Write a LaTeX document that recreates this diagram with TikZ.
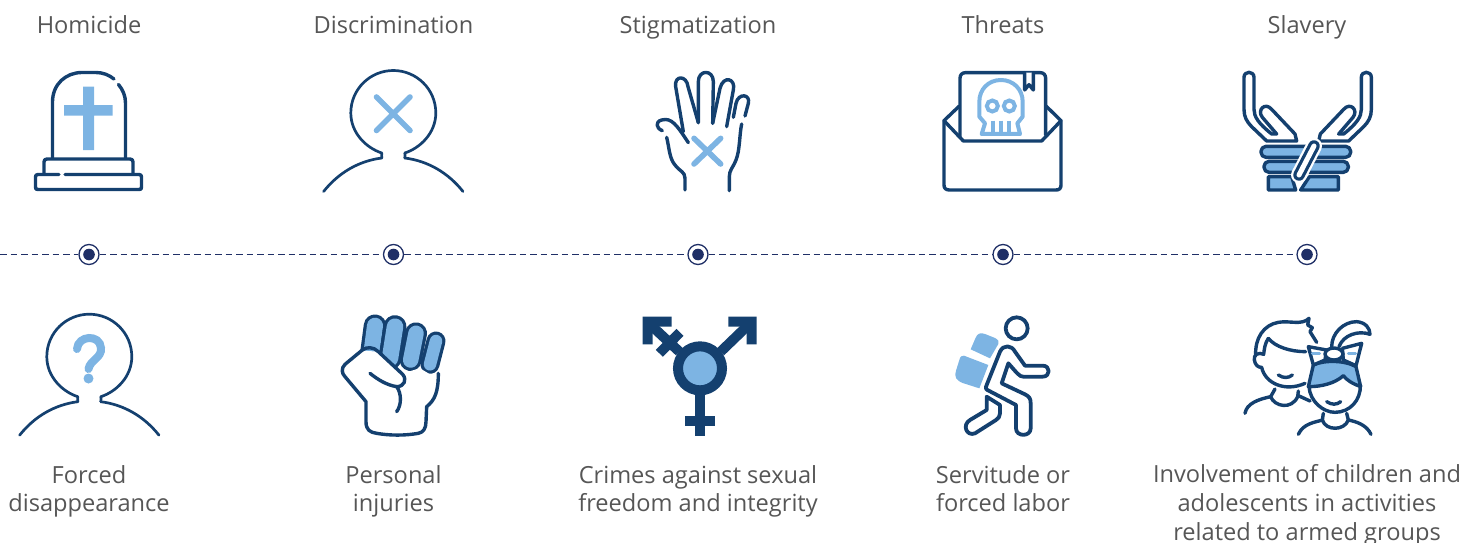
\documentclass[tikz,border=0pt]{standalone}
\usepackage{fontspec}
\setmainfont{Open Sans}
\definecolor{dk}{HTML}{14406F}
\definecolor{lt}{HTML}{7DB4E3}
\definecolor{navy}{HTML}{1F2F66}
\definecolor{tx}{HTML}{565656}
\tikzset{
 lab/.style={font=\fontsize{23.6}{28.7}\selectfont,text=tx,inner sep=0pt,align=center,anchor=base},
 marker/.style={circle,draw=navy,line width=1.3pt,fill=white,minimum size=20pt,inner sep=0pt},
 tl/.style={draw=navy,line width=1.3pt,dash pattern=on 6.5pt off 4pt},
 ink/.style={draw=dk,line width=3.4pt,line cap=round,line join=round},
 thin/.style={draw=dk,line width=2.7pt,line cap=round,line join=round},
 accent/.style={draw=lt,line width=5.6pt,line cap=round},
 zm/.style 2 args={shift={(#1pt,-#2pt)},x=.33333pt,y=-.33333pt}
}
\newcommand{\personicon}{%
 \draw[thin] (-11.5,45) .. controls (-11.5,43) and (-12,41) .. (-11.5,40)
   .. controls (-27,35) and (-42.5,20) .. (-42.5,0) .. controls (-42.5,-24) and (-23,-42.5) .. (0,-42.5)
   .. controls (23,-42.5) and (42.5,-24) .. (42.5,0) .. controls (42.5,20) and (27,35) .. (11.5,40)
   .. controls (12,41) and (11.5,43) .. (11.5,45);
 \draw[thin] (-11.5,45) .. controls (-35,48) and (-55,60) .. (-69.7,78.5);
 \draw[thin] (11.5,45) .. controls (35,48) and (55,60) .. (69.7,78.5);
}
\begin{document}
\begin{tikzpicture}[x=1pt,y=-1pt]
\useasboundingbox (0,0) rectangle (1478,543);
% labels
\node[lab] (t1) at (89,33.5) {Homicide};
\node[lab] (t2) at (393.5,33.5) {Discrimination};
\node[lab] (t3) at (698,33.5) {Stigmatization};
\node[lab] (t4) at (1003,33.5) {Threats};
\node[lab] (t5) at (1307,33.5) {Slavery};
\node[lab] (b1) at (89,511.7) {Forced\\disappearance};
\node[lab] (b2) at (393.5,511.7) {Personal\\injuries};
\node[lab] (b3) at (698,511.7) {Crimes against sexual\\freedom and integrity};
\node[lab] (b4) at (1003,511.7) {Servitude or\\forced labor};
\node[lab] (b5) at (1307,540.3) {Involvement of children and\\adolescents in activities\\related to armed groups};
% timeline
\coordinate (start) at (0,254.5);
\node[marker] (m1) at (89,254.5) {};
\node[marker] (m2) at (393.5,254.5) {};
\node[marker] (m3) at (698,254.5) {};
\node[marker] (m4) at (1003,254.5) {};
\node[marker] (m5) at (1307,254.5) {};
\draw[tl] (start) -- (m1);
\draw[tl] (m1) -- (m2);
\draw[tl] (m2) -- (m3);
\draw[tl] (m3) -- (m4);
\draw[tl] (m4) -- (m5);
\foreach \m in {m1,m2,m3,m4,m5} \fill[navy] (\m) circle[radius=5.8pt];
% tombstone
\fill[lt] (83,86.5) rectangle (94,150) (64,105) rectangle (112.7,115.7);
\draw[ink] (52.5,158) -- (52.5,102) .. controls (52.5,84) and (66,72.5) .. (82,72.5) -- (96,72.5) .. controls (103,72.5) and (109,75) .. (114,79);
\draw[ink] (118.5,84.5) .. controls (123,90) and (125.5,96) .. (125.5,103) -- (125.5,158);
\draw[ink] (44,174) -- (44,162) .. controls (44,160) and (45,159) .. (47,159) -- (130,159) .. controls (132,159) and (133,160) .. (133,162) -- (133,174);
\draw[ink] (59,174.5) -- (38,174.5) .. controls (36,174.5) and (35.5,175.5) .. (35.5,177) -- (35.5,187) .. controls (35.5,189) and (36,189.5) .. (38,189.5) -- (139,189.5) .. controls (141,189.5) and (141.5,189) .. (141.5,187) -- (141.5,177) .. controls (141.5,175.5) and (141,174.5) .. (139,174.5) -- (65,174.5);
% person x
\begin{scope}[shift={(393.3pt,-113pt)}]
 \personicon
\end{scope}
\draw[accent] (376.5,97) -- (410,130.5) (410,97) -- (376.5,130.5);
% hand
\begin{scope}[zm={630}{60}]
 \draw[accent] (192,235) -- (272,312) (272,235) -- (192,312);
 \draw[ink] (97,212) .. controls (78,205) and (75,185) .. (95,180) .. controls (125,172) and (140,195) .. (175,248);
 \draw[ink] (110,232) .. controls (118,265) and (118,295) .. (135,315) .. controls (150,335) and (165,335) .. (165,355) -- (165,390);
 \draw[ink] (160,215) -- (137,80) .. controls (132,45) and (170,45) .. (174,80) -- (205,188);
 \draw[ink] (205,188) -- (205,65) .. controls (205,28) and (250,28) .. (250,65) -- (248,190);
 \draw[ink] (248,190) -- (270,85) .. controls (280,45) and (318,55) .. (310,90) -- (290,200);
 \draw[ink] (310,172) -- (318,130) .. controls (325,98) and (362,102) .. (355,130) -- (345,168);
 \draw[ink] (335,192) .. controls (328,225) and (330,270) .. (318,300) .. controls (308,325) and (298,330) .. (298,350) -- (298,392);
\end{scope}
% envelope
\begin{scope}[zm={930}{60}]
 \draw[ink] (88,138) -- (42,182) -- (42,375) .. controls (42,385) and (48,390) .. (58,390) -- (378,390) .. controls (388,390) and (393,385) .. (393,375) -- (393,182) -- (348,138);
 \draw[ink] (42,182) -- (100,243) -- (335,243) -- (393,182);
 \draw[ink] (90,230) -- (90,55) .. controls (90,45) and (96,38) .. (106,38) -- (331,38) .. controls (341,38) and (347,45) .. (347,55) -- (347,225);
 \draw[ink,fill=white] (284,38) -- (284,90) -- (297,74) -- (310,90) -- (310,38);
 \draw[draw=lt,line width=4pt,line join=round] (213,60) .. controls (175,60) and (148,88) .. (148,125) -- (148,170) -- (165,190) -- (155,222) -- (270,222) -- (262,190) -- (278,170) -- (278,125) .. controls (278,88) and (250,60) .. (213,60);
 \draw[draw=lt,line width=4pt] (187,138) circle[radius=5.5pt] (238,138) circle[radius=5.5pt];
 \draw[draw=lt,line width=4pt] (190,182) -- (190,222) (213,182) -- (213,222) (237,182) -- (237,222);
\end{scope}
% chained hands
\begin{scope}[zm={1230}{60}]
 \draw[ink,fill=lt] (115,350) -- (185,350) -- (197,390) -- (115,390) -- cycle;
 \draw[ink,fill=lt] (238,350) -- (325,350) -- (325,390) -- (212,390) -- cycle;
 \draw[ink,fill=lt,rounded corners=5pt] (93,259) rectangle (362,292);
 \draw[ink,fill=lt,rounded corners=5pt] (102,304) rectangle (355,337);
 \foreach \s/\o in {1/0,-1/466}{
  \begin{scope}[shift={(\o*0.33333pt,0pt)},xscale=\s]
   \draw[ink,fill=white] (42,52) .. controls (42,32) and (72,32) .. (72,52) -- (72,148) .. controls (72,170) and (85,190) .. (125,222) -- (140,222) -- (97,172) .. controls (80,150) and (105,125) .. (125,148) -- (195,222) -- (200,243) -- (110,243) -- (65,200) .. controls (50,185) and (42,170) .. (42,148) -- cycle;
  \end{scope}
 }
 \draw[white,line width=16pt,line cap=round] (252,258) -- (207,345);
 \draw[dk,line width=11.5pt,line cap=round] (252,258) -- (207,345);
 \draw[white,line width=5pt,line cap=round] (252,258) -- (207,345);
\end{scope}
% question person
\begin{scope}[shift={(89.3pt,-356.7pt)}]
 \personicon
\end{scope}
\draw[lt,line width=8pt,line cap=round] (77,349) .. controls (78,335) and (100,334) .. (101,348) .. controls (102,358) and (90,360) .. (88.5,369);
\fill[lt] (88.5,378.5) circle[radius=5pt];
% fist
\begin{scope}[zm={330}{305}]
 \foreach \a/\b/\w/\v/\ow/\iw in {135/62/122/160/22.5/16,195/65/180/160/23/16.5,258/85/242/165/22/15.5,318/108/300/178/19/12.5}{
  \draw[dk,line width=\ow pt,line cap=round] (\a,\b) -- (\w,\v);
  \draw[lt,line width=\iw pt,line cap=round] (\a,\b) -- (\w,\v);
 }
 \fill[white] (97,137) -- (45,180) -- (108,290) -- (108,350) -- (288,350) -- (290,305) -- (322,205) -- (300,208) -- (270,190) -- (245,197) -- (218,208) -- (145,140) -- cycle;
 \draw[ink] (97,135) .. controls (110,125) and (130,125) .. (145,140) -- (218,208) .. controls (232,225) and (222,245) .. (200,245);
 \draw[ink] (97,135) -- (45,178) .. controls (33,190) and (35,205) .. (45,215) -- (108,290) -- (108,350) .. controls (108,375) and (120,382) .. (140,385) .. controls (180,392) and (225,392) .. (265,385) .. controls (280,382) and (288,370) .. (288,350) -- (290,305) .. controls (315,285) and (325,260) .. (325,205);
 \draw[ink] (120,205) .. controls (145,225) and (170,240) .. (200,245) .. controls (215,265) and (215,300) .. (200,320);
\end{scope}
% gender symbol
\begin{scope}[zm={630}{305}]
 \draw[dk,line width=10pt] (210,270) -- (210,392) (165,349) -- (255,349);
 \draw[dk,line width=10pt] (272,140) -- (355,60);
 \fill[dk] (295,35) -- (380,35) -- (380,118) -- (350,118) -- (350,65) -- (295,65) -- cycle;
 \draw[dk,line width=10pt] (148,140) -- (62,60) (88,145) -- (150,82);
 \fill[dk] (125,35) -- (38,35) -- (38,118) -- (68,118) -- (68,65) -- (125,65) -- cycle;
 \draw[dk,line width=10pt,fill=lt] (210,190) circle[radius=22pt];
\end{scope}
% runner
\begin{scope}[zm={940}{305}]
 \fill[lt] (92,133) -- (107,98) .. controls (112,85) and (122,82) .. (135,87) -- (165,99) .. controls (175,104) and (178,110) .. (175,117) -- (150,160) -- cycle;
 \fill[lt] (72,152) -- (145,180) -- (118,250) -- (68,234) .. controls (48,226) and (42,215) .. (48,197) -- (58,165) .. controls (60,155) and (66,150) .. (72,152) -- cycle;
 \draw[draw=dk,line width=3.8pt,line join=round,line cap=round] (230,70) circle[radius=11pt];
 \draw[draw=dk,line width=3.8pt,line join=round,line cap=round]
   (140,240) -- (180,140) .. controls (190,118) and (215,120) .. (225,140) -- (255,182) -- (308,182) .. controls (332,182) and (332,215) .. (308,215) -- (250,215) .. controls (238,215) and (232,205) .. (205,175) -- (185,235) -- (255,268) .. controls (268,275) and (272,280) .. (272,295) -- (272,370) .. controls (272,396) and (228,396) .. (228,370) -- (228,300) -- (148,258) .. controls (138,254) and (135,250) .. (140,240) -- cycle;
 \draw[draw=dk,line width=3.8pt,line join=round,line cap=round]
   (140,275) -- (180,300) -- (180,325) .. controls (180,335) and (175,340) .. (168,345) -- (105,385) .. controls (80,395) and (65,360) .. (90,345) -- (140,315) -- cycle;
\end{scope}
% children
\begin{scope}[zm={1235}{305}]
 \draw[ink] (62,150) .. controls (60,100) and (85,60) .. (130,52) .. controls (165,46) and (200,62) .. (222,40) -- (218,60) -- (232,68) -- (225,80) -- (245,112);
 \draw[ink] (100,100) .. controls (120,125) and (165,140) .. (212,140);
 \draw[ink] (100,100) .. controls (90,115) and (88,130) .. (86,148) .. controls (70,140) and (55,150) .. (58,165) .. controls (60,180) and (70,188) .. (80,187) .. controls (90,235) and (150,262) .. (210,235);
 \draw[ink] (130,210) .. controls (145,220) and (160,220) .. (172,210);
 \draw[ink] (30,325) .. controls (35,295) and (70,283) .. (107,275) .. controls (118,305) and (170,315) .. (188,275) -- (190,258);
 \draw[ink] (120,252) -- (107,275) (190,272) -- (225,288);
 \draw[ink,fill=lt] (220,245) -- (235,180) .. controls (265,165) and (330,165) .. (363,185) -- (377,245) .. controls (350,235) and (335,225) .. (325,212) .. controls (300,235) and (260,245) .. (220,245) -- cycle;
 \draw[ink] (222,245) .. controls (225,290) and (265,322) .. (300,322) .. controls (345,322) and (378,285) .. (376,240);
 \draw[ink] (275,290) .. controls (290,300) and (305,300) .. (317,290);
 \draw[ink] (290,125) .. controls (290,85) and (325,50) .. (365,50) .. controls (392,52) and (405,70) .. (405,88) .. controls (370,75) and (325,90) .. (312,125);
 \draw[ink,fill=white] (220,125) -- (275,135) -- (270,165) -- (235,180) -- cycle;
 \draw[ink,fill=white] (380,115) -- (322,130) -- (325,165) -- (363,182) -- cycle;
 \draw[ink,fill=white] (297,147) ellipse[x radius=9pt,y radius=6pt];
 \draw[lt,line width=3pt,line cap=round] (232,145) -- (254,145) (340,145) -- (362,145);
 \draw[ink] (265,325) -- (262,345) (335,325) -- (340,345);
 \draw[ink] (190,388) .. controls (205,355) and (240,352) .. (262,345) .. controls (272,378) and (328,378) .. (340,345) .. controls (365,350) and (395,360) .. (408,388);
\end{scope}
\end{tikzpicture}
\end{document}
